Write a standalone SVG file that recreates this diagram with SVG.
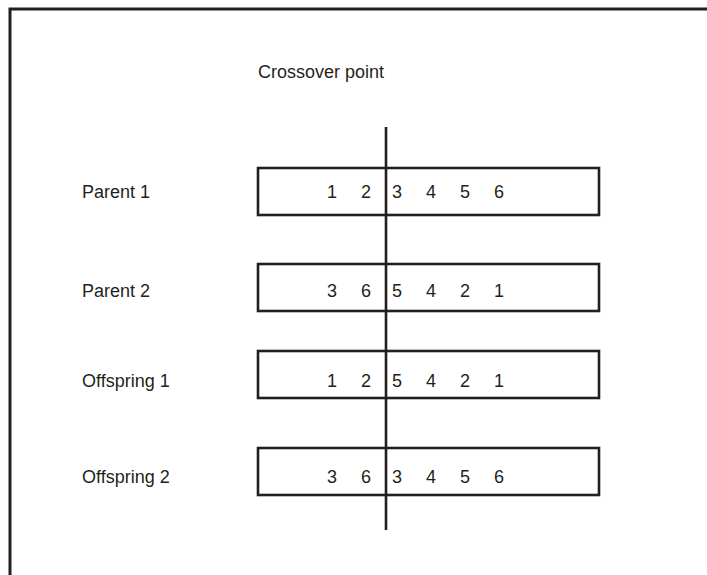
<svg xmlns="http://www.w3.org/2000/svg" width="707" height="575" viewBox="0 0 707 575">
  <style>
    .frame { fill: none; stroke: #231f20; stroke-width: 3; }
    .chrom { fill: #ffffff; stroke: #231f20; stroke-width: 2.6; }
    .cut { stroke: #231f20; stroke-width: 2.6; }
    text { font-family: "Liberation Sans", Arial, sans-serif; font-size: 18px; fill: #231f20; }
    .gene { text-anchor: middle; }
  </style>
  <rect width="707" height="575" fill="#ffffff"/>
  <!-- outer frame, open to the right and bottom edges -->
  <rect class="frame" x="10" y="9" width="720" height="600"/>

  <text x="258" y="78">Crossover point</text>

  <g id="parent1">
    <rect class="chrom" x="258" y="168" width="341" height="47"/>
    <text x="82" y="198">Parent 1</text>
    <text class="gene" x="332" y="198">1</text>
    <text class="gene" x="366" y="198">2</text>
    <text class="gene" x="397" y="198">3</text>
    <text class="gene" x="431" y="198">4</text>
    <text class="gene" x="465" y="198">5</text>
    <text class="gene" x="499" y="198">6</text>
  </g>

  <g id="parent2">
    <rect class="chrom" x="258" y="264" width="341" height="47"/>
    <text x="82" y="297">Parent 2</text>
    <text class="gene" x="332" y="297">3</text>
    <text class="gene" x="366" y="297">6</text>
    <text class="gene" x="397" y="297">5</text>
    <text class="gene" x="431" y="297">4</text>
    <text class="gene" x="465" y="297">2</text>
    <text class="gene" x="499" y="297">1</text>
  </g>

  <g id="offspring1">
    <rect class="chrom" x="258" y="351" width="341" height="47"/>
    <text x="82" y="387">Offspring 1</text>
    <text class="gene" x="332" y="387">1</text>
    <text class="gene" x="366" y="387">2</text>
    <text class="gene" x="397" y="387">5</text>
    <text class="gene" x="431" y="387">4</text>
    <text class="gene" x="465" y="387">2</text>
    <text class="gene" x="499" y="387">1</text>
  </g>

  <g id="offspring2">
    <rect class="chrom" x="258" y="448" width="341" height="47"/>
    <text x="82" y="483">Offspring 2</text>
    <text class="gene" x="332" y="483">3</text>
    <text class="gene" x="366" y="483">6</text>
    <text class="gene" x="397" y="483">3</text>
    <text class="gene" x="431" y="483">4</text>
    <text class="gene" x="465" y="483">5</text>
    <text class="gene" x="499" y="483">6</text>
  </g>

  <g id="connectors">
    <line class="cut" x1="386" y1="127" x2="386" y2="530"/>
  </g>
</svg>
